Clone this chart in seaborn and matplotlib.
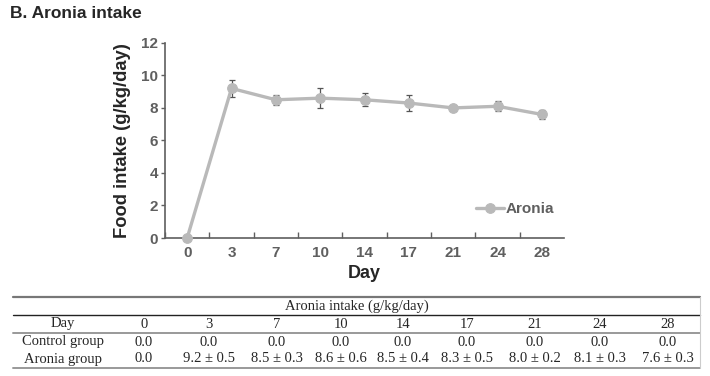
import numpy as np
import pandas as pd
import matplotlib
matplotlib.use("Agg")
import matplotlib.pyplot as plt
import seaborn as sns
from matplotlib.lines import Line2D

# data
days = ["0", "3", "7", "10", "14", "17", "21", "24", "28"]
aronia_mean = [0.0, 9.2, 8.5, 8.6, 8.5, 8.3, 8.0, 8.1, 7.6]
aronia_sd = [0.0, 0.5, 0.3, 0.6, 0.4, 0.5, 0.2, 0.3, 0.3]
control_mean = [0.0, 0.0, 0.0, 0.0, 0.0, 0.0, 0.0, 0.0, 0.0]

df = pd.DataFrame({"day": days, "intake": aronia_mean, "sd": aronia_sd})

sns.set_style("ticks")
plt.rcParams["font.family"] = ["Liberation Sans", "DejaVu Sans"]

line_col = "#b9b9b9"
tick_col = "#5f5f5f"

fig = plt.figure(figsize=(7.1, 3.76), dpi=100)
ax = fig.add_axes([0.2324, 0.367, 0.562, 0.519])

# error bars first so the line sits on top
ax.errorbar(np.arange(len(days)), df["intake"], yerr=df["sd"], fmt="none",
            ecolor="#555555", elinewidth=0.9, capsize=2.5, capthick=0.9, zorder=2)
sns.lineplot(data=df, x="day", y="intake", sort=False, ax=ax, color=line_col,
             linewidth=2.4, marker="o", markersize=7, markeredgecolor=line_col,
             label="Aronia", zorder=3, clip_on=False)

ax.set_xlim(-0.5, len(days) - 0.5)
ax.set_ylim(0, 12)
ax.set_yticks(range(0, 13, 2))
ax.set_xticks(np.arange(len(days)))
ax.set_xticklabels(days)
ax.set_xticks(np.arange(len(days)) - 0.5, minor=True)
ax.tick_params(axis="x", which="major", length=0, pad=6)
ax.tick_params(axis="x", which="minor", length=4, width=1, color=tick_col, direction="in")
ax.tick_params(axis="y", length=3, width=1, color=tick_col, pad=2)
for lab in ax.get_xticklabels() + ax.get_yticklabels():
    lab.set_fontweight("bold")
    lab.set_fontsize(11)
    lab.set_color(tick_col)

for s in ["top", "right"]:
    ax.spines[s].set_visible(False)
for s in ["left", "bottom"]:
    ax.spines[s].set_color(tick_col)
    ax.spines[s].set_linewidth(1.2)

ax.set_xlabel("Day", fontsize=13, fontweight="bold", labelpad=3)
ax.set_ylabel("Food intake (g/kg/day)", fontsize=13.2, fontweight="bold", labelpad=7)

leg = ax.legend(loc="lower right", bbox_to_anchor=(0.99, 0.08), frameon=False,
                handlelength=1.8, handletextpad=0.1, borderaxespad=0,
                prop={"weight": "bold", "size": 11})
for t in leg.get_texts():
    t.set_color(tick_col)

fig.text(10 / 710, 1 - 13 / 376, "B. Aronia intake", fontsize=12.5,
         fontweight="bold", va="center", ha="left")

# ---- table underneath ----
W, H = 710, 376
def fx(x):
    return x / W
def fy(y):
    return 1 - y / H

for y, lw, c in [(297, 1.6, "#777777"), (315, 1.0, "#222222"), (333, 1.4, "#999999"), (368, 1.4, "#999999")]:
    fig.add_artist(Line2D([fx(13), fx(700)], [fy(y), fy(y)], color=c, lw=lw))
fig.add_artist(Line2D([fx(700), fx(700)], [fy(297), fy(368)], color="#cccccc", lw=0.8))

serif = ["Liberation Serif", "DejaVu Serif"]
col_x = [144, 209, 277, 341, 403, 467, 535, 600, 668]
ts = 10.5
fig.text(fx(357), fy(306), "Aronia intake (g/kg/day)", family=serif, fontsize=ts,
         ha="center", va="center")
row_y = {"day": 324, "ctrl": 342, "aro": 359}
fig.text(fx(63), fy(row_y["day"]), "Day", family=serif, fontsize=ts, ha="center", va="center")
fig.text(fx(63), fy(row_y["ctrl"]), "Control group", family=serif, fontsize=ts, ha="center", va="center")
fig.text(fx(63), fy(row_y["aro"]), "Aronia group", family=serif, fontsize=ts, ha="center", va="center")
for i, d in enumerate(days):
    fig.text(fx(col_x[i]), fy(row_y["day"]), d, family=serif, fontsize=ts, ha="center", va="center")
    fig.text(fx(col_x[i]), fy(row_y["ctrl"]), f"{control_mean[i]:.1f}", family=serif,
             fontsize=ts, ha="center", va="center")
    if aronia_sd[i] == 0:
        s = f"{aronia_mean[i]:.1f}"
    else:
        s = f"{aronia_mean[i]:.1f} ± {aronia_sd[i]:.1f}"
    fig.text(fx(col_x[i]), fy(row_y["aro"]), s, family=serif, fontsize=ts, ha="center", va="center")

fig.savefig("out.png", dpi=100)
